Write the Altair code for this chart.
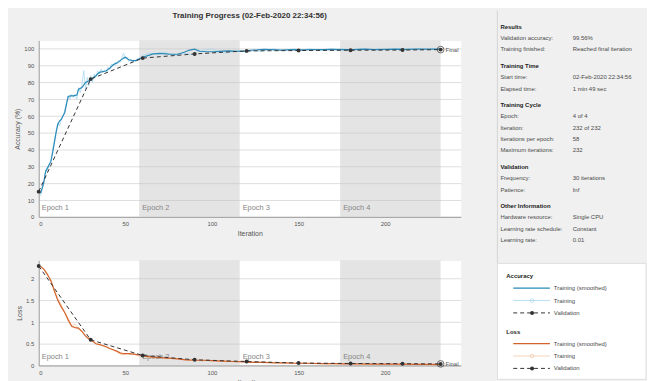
import altair as alt
import pandas as pd

TITLE = "Training Progress (02-Feb-2020 22:34:56)"

# ---------------- data ----------------
acc_smooth_iter = [1,2,3,4,5,6,7,8,9,10,11,12,13,14,15,16,17,18,20,22,23,25,27,29,31,33,35,37,39,41,43,45,47,49,50,
                   52,54,56,58,60,63,66,70,75,80,84,87,90,93,97,102,106,110,114,118,122,126,130,134,
                   140,146,152,158,164,170,176,182,188,194,200,206,212,218,224,228,232]
acc_smooth = [14,17,21,27,29,31,33,38,44,50,55,57,58,60,62,67,71.5,72,72,72.5,76,77,80,81,82.5,84,86,86.5,87,88.5,90.5,91.5,93,94.5,95,
              93.5,93,93,94,95,96,97,97.3,96.9,96.8,98,99.3,99.8,98.6,98.3,98.4,98.7,98.8,98.6,98.5,99.2,99.4,99.7,99.5,
              99.3,99.6,99.4,99.6,99.5,99.7,99.5,99.6,99.8,99.6,99.7,99.8,99.7,99.8,99.9,99.8,99.9]

acc_raw_iter = list(range(1, 59)) + list(range(60, 233, 4))
acc_raw = [12.5,16,20,28,27,31,32,40,45,51, 56,54,58,60,63,68,72,70,73,71,
           73,70,77,74,79,87,76,83,78,84, 80,85,83,87,85,88,86,87,86,89,
           88,91,90,92,91,93,92,95,97.5,94, 95,92.5,94,92,93.5,92.5,94.5,94,
           96,97.5,96.5,98,97,96,97.5,96.5,98.5,99.5,100,98,97.5,98.5,99,98,99,98.5,99.5,100,99,99.5,
           100,99,100,99.5,99,100,99.5,100,99,100,100,99.5,100,99.5,100,100,99.5,100,100,99.5,100,100]

loss_smooth_iter = [1,3,5,7,9,11,13,15,17,19,21,23,25,27,29,31,33,35,37,39,41,43,45,47,49,
                    52,55,58,62,66,70,75,80,85,90,95,100,
                    106,112,118,124,130,136,142,148,155,162,170,178,186,194,202,210,218,226,232]
loss_smooth = [2.28,2.22,2.10,1.95,1.72,1.50,1.35,1.22,1.05,0.90,0.87,0.86,0.78,0.68,0.61,0.56,0.50,0.48,0.46,0.43,0.39,0.36,0.33,0.29,0.27,
               0.27,0.26,0.24,0.21,0.19,0.18,0.17,0.15,0.13,0.12,0.12,0.11,
               0.10,0.09,0.08,0.07,0.07,0.06,0.06,0.05,0.05,0.04,0.04,0.035,0.035,0.03,0.03,0.03,0.025,0.025,0.02]

loss_raw_iter = list(range(1, 60, 2)) + list(range(62, 231, 4))
loss_raw = [2.30,2.22,2.08,1.98,1.75,1.55,1.40,1.22,1.08,0.92,0.95,0.83,0.80,0.66,0.62,0.58,0.50,0.49,0.44,0.42,
            0.38,0.35,0.32,0.26,0.24,0.27,0.25,0.26,0.22,0.21,
            0.20,0.17,0.19,0.15,0.17,0.14,0.12,0.13,0.10,0.12,0.09,0.11,0.09,0.08,0.10,0.07,0.08,0.06,0.07,0.06,
            0.05,0.06,0.04,0.05,0.04,0.05,0.03,0.04,0.03,0.04,0.03,0.03,0.02,0.03,0.02,0.03,0.02,0.02,0.03,0.02,
            0.02,0.01,0.02]

val_iter = [0, 30, 60, 90, 120, 150, 180, 210, 232]
val_acc = [15, 82, 94.5, 97, 98.8, 99, 99.2, 99.3, 99.56]
val_loss = [2.29, 0.59, 0.23, 0.13, 0.09, 0.055, 0.045, 0.04, 0.035]

epoch_names = ["Epoch 1", "Epoch 2", "Epoch 3", "Epoch 4"]
epoch_start = [0, 58, 116, 174]
epoch_end = [58, 116, 174, 232]
epoch_shaded = [0, 1, 0, 1]

x_ticks = [0, 50, 100, 150, 200]
acc_ticks = [0, 10, 20, 30, 40, 50, 60, 70, 80, 90, 100]
loss_ticks = [0, 0.5, 1, 1.5, 2]

panel_headers = ["Results", "Training Time", "Training Cycle", "Validation", "Other Information"]
panel_section = [0, 0, 1, 1, 2, 2, 2, 2, 3, 3, 4, 4, 4]
panel_labels = ["Validation accuracy:", "Training finished:", "Start time:", "Elapsed time:",
                "Epoch:", "Iteration:", "Iterations per epoch:", "Maximum iterations:",
                "Frequency:", "Patience:", "Hardware resource:", "Learning rate schedule:", "Learning rate:"]
panel_values = ["99.56%", "Reached final iteration", "02-Feb-2020 22:34:56", "1 min 49 sec",
                "4 of 4", "232 of 232", "58", "232",
                "30 iterations", "Inf", "Single CPU", "Constant", "0.01"]

legend_groups = ["Accuracy", "Loss"]
legend_items = ["Training (smoothed)", "Training", "Validation"]

# ---------------- styles ----------------
FONT = "Liberation Sans"
C_ACC = "#2a8ab8"
C_ACC_RAW = "#a9d7ee"
C_LOSS = "#d4622a"
C_LOSS_RAW = "#f3c8a6"
C_VAL = "#333333"
TXT = "#555555"

W = 426
H_TOP = 178
H_BOT = 106
X_MAX = 243.6

xs = alt.Scale(domain=[0, X_MAX], nice=False, zero=False)


def x_axis():
    return alt.Axis(title="Iteration", values=x_ticks, grid=False, ticks=False, labelPadding=4,
                    titlePadding=3, domainColor="#9a9a9a", labelFontSize=6, titleFontSize=7,
                    labelColor=TXT, titleColor=TXT, titleFontWeight="normal", labelFont=FONT, titleFont=FONT)


def y_axis(title, values, fmt):
    return alt.Axis(title=title, values=values, grid=True, gridColor="#dedede", ticks=False, labelPadding=5,
                    titlePadding=3, domainColor="#9a9a9a", labelFontSize=6, titleFontSize=7, format=fmt,
                    labelColor=TXT, titleColor=TXT, titleFontWeight="normal", labelFont=FONT, titleFont=FONT)


ep = pd.DataFrame({"start": epoch_start, "end": epoch_end, "label": epoch_names, "shade": epoch_shaded})
one = pd.DataFrame({"a": [0]})


def plot_layers(raw_it, raw_v, sm_it, sm_v, val_v, ys, yax, c_raw, c_sm, epoch_y):
    X = lambda f: alt.X(f, scale=xs, axis=x_axis())
    Y = lambda f: alt.Y(f, scale=ys, axis=yax)
    rect = alt.Chart(ep).transform_filter("datum.shade == 1").mark_rect(
        color="#c4c4c4", opacity=0.45).encode(x=X("start:Q"), x2="end:Q")
    etext = alt.Chart(ep).mark_text(align="left", baseline="middle", dx=3, fontSize=7.5,
                                    color="#858585", font=FONT).encode(
        x=X("start:Q"), y=alt.value(epoch_y), text="label:N")
    raw = alt.Chart(pd.DataFrame({"it": raw_it, "v": raw_v})).mark_line(
        color=c_raw, strokeWidth=0.8).encode(x=X("it:Q"), y=Y("v:Q"))
    sm = alt.Chart(pd.DataFrame({"it": sm_it, "v": sm_v})).mark_line(
        color=c_sm, strokeWidth=1.2).encode(x=X("it:Q"), y=Y("v:Q"))
    vdf = pd.DataFrame({"it": val_iter, "v": val_v})
    vline = alt.Chart(vdf).mark_line(color=C_VAL, strokeWidth=1, strokeDash=[4, 3]).encode(
        x=X("it:Q"), y=Y("v:Q"))
    vpts = alt.Chart(vdf).mark_point(filled=True, color=C_VAL, size=16, opacity=1).encode(
        x=X("it:Q"), y=Y("v:Q"))
    fdf = pd.DataFrame({"it": val_iter[-1:], "v": val_v[-1:], "t": ["Final"]})
    fcirc = alt.Chart(fdf).mark_point(filled=False, color=C_VAL, size=45, strokeWidth=1).encode(
        x=X("it:Q"), y=Y("v:Q"))
    ftext = alt.Chart(fdf).mark_text(align="left", baseline="middle", dx=5, fontSize=6,
                                     color=TXT, font=FONT).encode(x=X("it:Q"), y=Y("v:Q"), text="t:N")
    return [rect, etext, raw, sm, vline, vpts, fcirc, ftext]


# ---------------- right panel (relative to top plot origin) ----------------
OX, OY = 39, 38
rows = []
heads = []
y = 24.0
for si, h in enumerate(panel_headers):
    heads.append({"px": 505 - OX, "py": y - OY, "t": h})
    for li, sec in enumerate(panel_section):
        if sec == si:
            y += 11.5
            rows.append({"px": 505 - OX, "py": y - OY, "t": panel_labels[li]})
            rows.append({"px": 578 - OX, "py": y - OY, "t": panel_values[li]})
    y += 16.5
rows_df = pd.DataFrame(rows)
heads_df = pd.DataFrame(heads)

panel_text = alt.Chart(rows_df).mark_text(align="left", baseline="middle", fontSize=6, color="#4a4a4a",
                                          font=FONT).encode(
    x=alt.X("px:Q", scale=None), y=alt.Y("py:Q", scale=None), text="t:N")
panel_heads = alt.Chart(heads_df).mark_text(align="left", baseline="middle", fontSize=6, color="#222222",
                                            fontWeight="bold", font=FONT).encode(
    x=alt.X("px:Q", scale=None), y=alt.Y("py:Q", scale=None), text="t:N")

sep = alt.Chart(one).mark_rule(color="#d4d4d4", strokeWidth=1).encode(
    x=alt.value(502 - OX), y=alt.value(8 - OY), y2=alt.value(263 - OY))
lbox = alt.Chart(one).mark_rect(fill="white", stroke="#d8d8d8", strokeWidth=0.8).encode(
    x=alt.value(502 - OX), x2=alt.value(652 - OX), y=alt.value(263 - OY), y2=alt.value(380 - OY))
title_mark = alt.Chart(pd.DataFrame({"t": [TITLE]})).mark_text(
    align="center", baseline="middle", fontSize=8, fontWeight="bold", color="#333333", font=FONT).encode(
    x=alt.value(W / 2), y=alt.value(13 - OY), text="t:N")

# legend entries
lg_heads, lg_txt, lg_sm, lg_raw, lg_val = [], [], [], [], []
group_y = [276, 332]
sm_cols = [C_ACC, C_LOSS]
raw_cols = [C_ACC_RAW, C_LOSS_RAW]
for gi, g in enumerate(legend_groups):
    gy = group_y[gi]
    lg_heads.append({"py": gy - OY, "t": g})
    for ii, it in enumerate(legend_items):
        iy = gy + 12 + ii * 12.5 - OY
        lg_txt.append({"py": iy, "t": it})
        if ii == 0:
            lg_sm.append({"py": iy, "c": sm_cols[gi]})
        elif ii == 1:
            lg_raw.append({"py": iy, "c": raw_cols[gi]})
        else:
            lg_val.append({"py": iy, "c": C_VAL})

LX1, LX2, LXM, LXT = 518 - OX, 555 - OX, 537 - OX, 559 - OX
lg_layers = [
    alt.Chart(pd.DataFrame(lg_heads)).mark_text(align="left", baseline="middle", fontSize=6, fontWeight="bold",
                                                color="#222222", font=FONT).encode(
        x=alt.value(511 - OX), y=alt.Y("py:Q", scale=None), text="t:N"),
    alt.Chart(pd.DataFrame(lg_txt)).mark_text(align="left", baseline="middle", fontSize=6,
                                              color="#4a4a4a", font=FONT).encode(
        x=alt.value(LXT), y=alt.Y("py:Q", scale=None), text="t:N"),
    alt.Chart(pd.DataFrame(lg_sm)).mark_rule(strokeWidth=1.2).encode(
        x=alt.value(LX1), x2=alt.value(LX2), y=alt.Y("py:Q", scale=None), color=alt.Color("c:N", scale=None)),
    alt.Chart(pd.DataFrame(lg_raw)).mark_rule(strokeWidth=0.8).encode(
        x=alt.value(LX1), x2=alt.value(LX2), y=alt.Y("py:Q", scale=None), color=alt.Color("c:N", scale=None)),
    alt.Chart(pd.DataFrame(lg_raw)).mark_point(filled=False, size=14, strokeWidth=1).encode(
        x=alt.value(LXM), y=alt.Y("py:Q", scale=None), color=alt.Color("c:N", scale=None)),
    alt.Chart(pd.DataFrame(lg_val)).mark_rule(strokeWidth=1, strokeDash=[4, 3]).encode(
        x=alt.value(LX1), x2=alt.value(LX2), y=alt.Y("py:Q", scale=None), color=alt.Color("c:N", scale=None)),
    alt.Chart(pd.DataFrame(lg_val)).mark_point(filled=True, size=16, opacity=1).encode(
        x=alt.value(LXM), y=alt.Y("py:Q", scale=None), color=alt.Color("c:N", scale=None)),
]

# ---------------- charts ----------------
top_layers = plot_layers(acc_raw_iter, acc_raw, acc_smooth_iter, acc_smooth, val_acc,
                         alt.Scale(domain=[0, 105], nice=False), y_axis("Accuracy (%)", acc_ticks, "d"),
                         C_ACC_RAW, C_ACC, 169)
top = alt.layer(*top_layers, sep, lbox, title_mark, panel_text, panel_heads, *lg_layers).properties(
    width=W, height=H_TOP)

bot_layers = plot_layers(loss_raw_iter, loss_raw, loss_smooth_iter, loss_smooth, val_loss,
                         alt.Scale(domain=[0, 2.42], nice=False), y_axis("Loss", loss_ticks, "~g"),
                         C_LOSS_RAW, C_LOSS, 98)
bot = alt.layer(*bot_layers).properties(width=W, height=H_BOT)

chart = alt.vconcat(top, bot, spacing=44, bounds="flush").properties(
    padding={"left": 5, "top": 0, "right": 0, "bottom": 0}
).configure(background="#f0f0f0", font=FONT).configure_view(fill="white", stroke="transparent")

chart.save("out.html", embed_options={"renderer": "svg", "actions": False})
